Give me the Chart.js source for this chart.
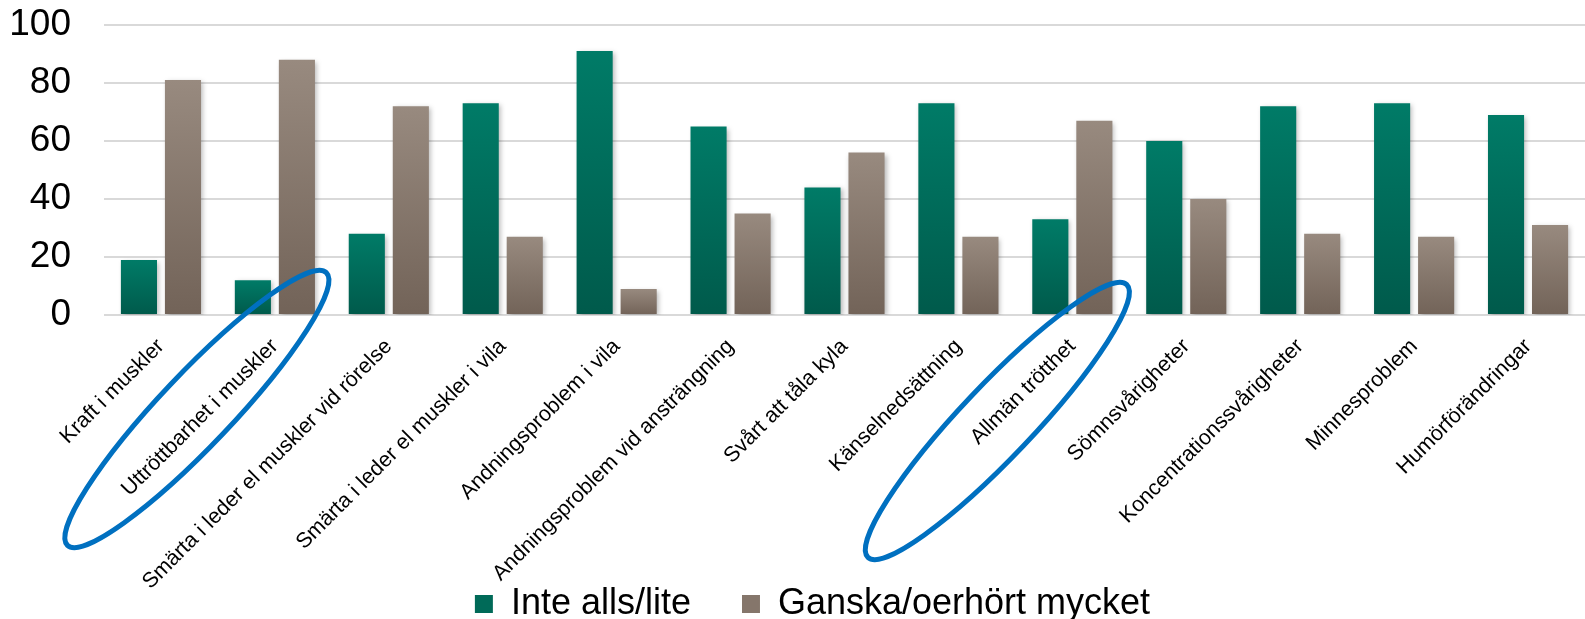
<!DOCTYPE html>
<html>
<head>
<meta charset="utf-8">
<script src="https://cdn.jsdelivr.net/npm/chart.js@4"></script>
<style>
  html, body { margin: 0; padding: 0; background: #fff; }
  #wrap { width: 1585px; height: 619px; }
</style>
</head>
<body>
<div id="wrap"><canvas id="chart"></canvas></div>
<script>
// data
var categories = ["Kraft i muskler", "Uttröttbarhet i muskler", "Smärta i leder el muskler vid rörelse",
  "Smärta i leder el muskler i vila", "Andningsproblem i vila", "Andningsproblem vid ansträngning",
  "Svårt att tåla kyla", "Känselnedsättning", "Allmän trötthet", "Sömnsvårigheter",
  "Koncentrationssvårigheter", "Minnesproblem", "Humörförändringar"];
var seriesNames = ["Inte alls/lite", "Ganska/oerhört mycket"];
var inteAlls = [19, 12, 28, 73, 91, 65, 44, 73, 33, 60, 72, 73, 69];
var ganska = [81, 88, 72, 27, 9, 35, 56, 27, 67, 40, 28, 27, 31];
var yTicks = [0, 20, 40, 60, 80, 100];
// categories circled in blue
var circled = ["Uttröttbarhet i muskler", "Allmän trötthet"];

var font = "'Liberation Sans', Arial, sans-serif";

function barGradient(top, bottom) {
  return function(ctx) {
    var chart = ctx.chart;
    if (!chart.chartArea || ctx.type !== 'data') return bottom;
    var y = chart.scales.y;
    var g = chart.ctx.createLinearGradient(0, y.getPixelForValue(ctx.raw), 0, y.getPixelForValue(0));
    g.addColorStop(0, top);
    g.addColorStop(1, bottom);
    return g;
  };
}

// labels may run outside their axis box, so don't clip them
function noLabelClip(axis) {
  axis._computeLabelArea = function() { return undefined; };
}

var barShadow = {
  id: 'barShadow',
  beforeDatasetsDraw: function(chart) {
    var c = chart.ctx;
    c.save();
    c.shadowColor = 'rgba(0,0,0,0.28)';
    c.shadowBlur = 5;
    c.shadowOffsetX = 2;
    c.shadowOffsetY = 2;
  },
  afterDatasetsDraw: function(chart) { chart.ctx.restore(); }
};

// blue ellipses drawn around the highlighted labels
var ellipses = {
  id: 'ellipses',
  afterDraw: function(chart) {
    var c = chart.ctx, x = chart.scales.x, bottom = chart.chartArea.bottom;
    var offs = [[-78, 94], [-75, 106]];
    c.save();
    c.strokeStyle = '#0070C0';
    c.lineWidth = 5;
    circled.forEach(function(name, i) {
      var cx = x.getPixelForValue(categories.indexOf(name)) + offs[i][0];
      var cy = bottom + offs[i][1];
      c.beginPath();
      c.ellipse(cx, cy, 188, 36, -46.5 * Math.PI / 180, 0, Math.PI * 2);
      c.stroke();
    });
    c.restore();
  }
};

new Chart(document.getElementById('chart'), {
  type: 'bar',
  data: {
    labels: categories,
    datasets: [{
      label: seriesNames[0],
      data: inteAlls,
      backgroundColor: barGradient('#007B67', '#005A4B'),
      categoryPercentage: 0.773,
      barPercentage: 0.82
    }, {
      label: seriesNames[1],
      data: ganska,
      backgroundColor: barGradient('#988A7F', '#726358'),
      categoryPercentage: 0.773,
      barPercentage: 0.82
    }]
  },
  options: {
    responsive: true,
    maintainAspectRatio: false,
    animation: false,
    layout: { padding: { left: 40, top: 25, right: 0, bottom: -13 } },
    scales: {
      x: {
        grid: { display: false },
        border: { display: false },
        ticks: {
          color: '#000',
          font: { family: font, size: 21.5 },
          minRotation: 45,
          maxRotation: 45,
          padding: 11,
          autoSkip: false
        },
        afterFit: function(axis) {
          axis.height = 220;
          axis.paddingLeft = 0;
          axis.paddingRight = 0;
          noLabelClip(axis);
        }
      },
      y: {
        min: 0,
        max: 100,
        afterBuildTicks: function(axis) {
          axis.ticks = yTicks.map(function(v) { return { value: v }; });
        },
        grid: { color: '#D9D9D9', lineWidth: 2, drawTicks: false },
        border: { display: false },
        ticks: {
          color: '#000',
          font: { family: font, size: 37 },
          padding: 33
        },
        afterFit: function(axis) {
          axis.width = 64;
          axis.paddingTop = 0;
          axis.paddingBottom = 0;
          noLabelClip(axis);
        }
      }
    },
    plugins: {
      tooltip: { enabled: false },
      legend: {
        position: 'bottom',
        labels: {
          color: '#000',
          font: { family: font, size: 36 },
          boxWidth: 18,
          boxHeight: 18,
          padding: 51,
          generateLabels: function(chart) {
            var fills = ['#006A58', '#85766B'];
            return seriesNames.map(function(n, i) {
              return { text: n, fillStyle: fills[i], strokeStyle: fills[i], lineWidth: 0, datasetIndex: i };
            });
          }
        }
      }
    }
  },
  plugins: [barShadow, ellipses]
});
</script>
</body>
</html>
